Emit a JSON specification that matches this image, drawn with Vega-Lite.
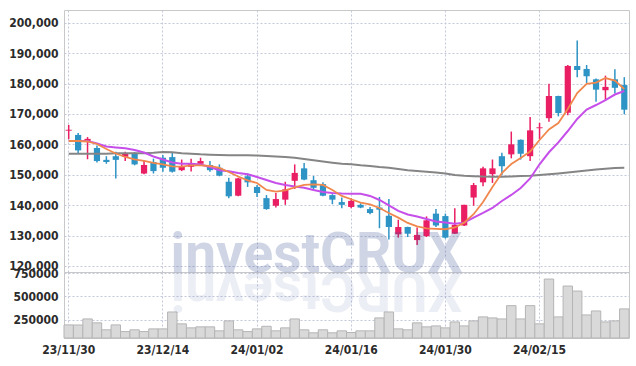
{
  "$schema": "https://vega.github.io/schema/vega-lite/v6.json",
  "padding": {"left": 5, "top": 9, "right": 8, "bottom": 5},
  "background": "white",
  "datasets": {
    "k": [
      {"d":"23/11/30","o":164500,"h":166400,"l":161700,"c":164800,"v":193000,"ma5":161100,"ma10":161100,"ma60":156930},
      {"d":"23/12/01","o":163100,"h":163700,"l":156900,"c":158000,"v":192000,"ma5":161100,"ma10":161100,"ma60":156930},
      {"d":"23/12/04","o":160900,"h":162400,"l":155100,"c":161800,"v":257000,"ma5":160940,"ma10":161100,"ma60":156930},
      {"d":"23/12/05","o":158800,"h":159600,"l":154000,"c":154500,"v":215000,"ma5":160120,"ma10":160280,"ma60":156930},
      {"d":"23/12/06","o":154900,"h":156100,"l":153600,"c":154200,"v":140000,"ma5":158470,"ma10":159300,"ma60":156930},
      {"d":"23/12/07","o":156100,"h":157600,"l":148800,"c":154900,"v":193000,"ma5":156990,"ma10":158970,"ma60":157060},
      {"d":"23/12/08","o":155900,"h":157600,"l":154500,"c":156900,"v":121000,"ma5":155840,"ma10":158700,"ma60":157060},
      {"d":"23/12/11","o":157200,"h":157500,"l":153100,"c":153400,"v":140000,"ma5":155090,"ma10":158140,"ma60":157060},
      {"d":"23/12/12","o":150400,"h":154800,"l":150200,"c":153200,"v":121000,"ma5":154530,"ma10":157320,"ma60":157060},
      {"d":"23/12/13","o":154200,"h":155300,"l":150400,"c":151200,"v":150000,"ma5":153870,"ma10":156010,"ma60":157200},
      {"d":"23/12/14","o":155600,"h":156500,"l":151000,"c":152300,"v":150000,"ma5":153440,"ma10":155020,"ma60":157500},
      {"d":"23/12/15","o":155800,"h":157300,"l":150700,"c":151000,"v":332000,"ma5":152720,"ma10":154030,"ma60":157400},
      {"d":"23/12/18","o":151500,"h":155000,"l":151200,"c":152800,"v":204000,"ma5":152650,"ma10":153640,"ma60":157100},
      {"d":"23/12/19","o":152600,"h":155300,"l":151100,"c":153600,"v":161000,"ma5":153050,"ma10":153640,"ma60":156930},
      {"d":"23/12/20","o":153600,"h":155600,"l":153000,"c":154500,"v":172000,"ma5":153110,"ma10":153380,"ma60":156730},
      {"d":"23/12/21","o":153200,"h":154500,"l":151000,"c":151500,"v":172000,"ma5":152880,"ma10":152550,"ma60":156600},
      {"d":"23/12/22","o":152300,"h":153400,"l":149500,"c":149700,"v":129000,"ma5":152230,"ma10":151470,"ma60":156500},
      {"d":"23/12/26","o":147700,"h":149000,"l":142300,"c":142900,"v":236000,"ma5":150910,"ma10":151140,"ma60":156430},
      {"d":"23/12/27","o":143100,"h":149000,"l":142900,"c":148800,"v":140000,"ma5":149430,"ma10":150580,"ma60":156400},
      {"d":"23/12/28","o":149500,"h":150400,"l":146000,"c":147500,"v":121000,"ma5":148120,"ma10":150150,"ma60":156400},
      {"d":"24/01/02","o":146000,"h":146600,"l":142700,"c":144000,"v":150000,"ma5":147290,"ma10":149270,"ma60":156340},
      {"d":"24/01/03","o":142300,"h":143300,"l":138500,"c":138700,"v":178000,"ma5":144990,"ma10":148280,"ma60":156170},
      {"d":"24/01/04","o":139800,"h":144000,"l":139200,"c":142000,"v":129000,"ma5":144430,"ma10":147290,"ma60":156010},
      {"d":"24/01/05","o":141800,"h":147700,"l":140100,"c":145200,"v":161000,"ma5":144830,"ma10":146640,"ma60":155840},
      {"d":"24/01/08","o":148000,"h":153400,"l":145300,"c":150600,"v":257000,"ma5":145810,"ma10":146140,"ma60":155580},
      {"d":"24/01/09","o":152100,"h":153900,"l":148200,"c":148400,"v":140000,"ma5":146640,"ma10":145750,"ma60":155190},
      {"d":"24/01/10","o":148200,"h":149600,"l":145100,"c":145700,"v":108000,"ma5":146800,"ma10":144990,"ma60":154760},
      {"d":"24/01/11","o":146900,"h":147500,"l":142900,"c":143100,"v":140000,"ma5":146640,"ma10":144330,"ma60":154360},
      {"d":"24/01/12","o":143300,"h":143600,"l":140300,"c":141800,"v":108000,"ma5":144990,"ma10":144010,"ma60":153970},
      {"d":"24/01/15","o":141000,"h":142500,"l":139000,"c":140100,"v":129000,"ma5":143020,"ma10":143840,"ma60":153640},
      {"d":"24/01/16","o":139400,"h":142300,"l":139000,"c":141400,"v":111000,"ma5":141930,"ma10":143780,"ma60":153440},
      {"d":"24/01/17","o":140100,"h":140600,"l":139000,"c":139200,"v":129000,"ma5":140820,"ma10":143740,"ma60":153110},
      {"d":"24/01/18","o":138700,"h":139400,"l":137000,"c":137400,"v":129000,"ma5":140220,"ma10":143020,"ma60":152880},
      {"d":"24/01/19","o":139200,"h":142700,"l":132400,"c":138500,"v":268000,"ma5":139070,"ma10":141700,"ma60":152550},
      {"d":"24/01/22","o":136500,"h":142000,"l":128700,"c":132800,"v":332000,"ma5":137430,"ma10":139900,"ma60":152290},
      {"d":"24/01/23","o":130400,"h":135200,"l":129300,"c":132800,"v":150000,"ma5":135880,"ma10":138090,"ma60":151900},
      {"d":"24/01/24","o":132800,"h":132900,"l":129500,"c":130600,"v":140000,"ma5":134140,"ma10":136940,"ma60":151470},
      {"d":"24/01/25","o":128500,"h":132600,"l":126900,"c":130200,"v":215000,"ma5":132990,"ma10":136280,"ma60":151240},
      {"d":"24/01/26","o":129800,"h":136300,"l":129500,"c":135000,"v":172000,"ma5":132330,"ma10":135460,"ma60":151010},
      {"d":"24/01/29","o":137200,"h":138700,"l":132800,"c":133300,"v":182000,"ma5":132170,"ma10":134630,"ma60":150750},
      {"d":"24/01/30","o":136400,"h":137200,"l":129000,"c":129300,"v":161000,"ma5":132070,"ma10":134310,"ma60":150420},
      {"d":"24/01/31","o":130600,"h":139000,"l":130500,"c":133500,"v":225000,"ma5":132660,"ma10":133910,"ma60":149920},
      {"d":"24/02/01","o":133300,"h":140100,"l":133100,"c":140100,"v":182000,"ma5":134240,"ma10":134240,"ma60":149660},
      {"d":"24/02/02","o":142500,"h":147300,"l":139800,"c":146600,"v":236000,"ma5":137000,"ma10":135880,"ma60":149500},
      {"d":"24/02/05","o":147500,"h":152600,"l":146200,"c":152100,"v":279000,"ma5":141050,"ma10":137430,"ma60":149400},
      {"d":"24/02/06","o":150200,"h":155000,"l":147300,"c":152100,"v":268000,"ma5":145980,"ma10":139070,"ma60":149370},
      {"d":"24/02/07","o":156100,"h":157200,"l":149900,"c":152800,"v":257000,"ma5":150580,"ma10":141370,"ma60":149370},
      {"d":"24/02/08","o":156700,"h":164200,"l":155400,"c":160000,"v":400000,"ma5":153540,"ma10":143350,"ma60":149430},
      {"d":"24/02/13","o":161500,"h":161600,"l":155000,"c":156900,"v":257000,"ma5":155510,"ma10":145650,"ma60":149600},
      {"d":"24/02/14","o":156100,"h":169000,"l":154500,"c":164600,"v":400000,"ma5":157650,"ma10":148770,"ma60":149690},
      {"d":"24/02/15","o":165300,"h":167100,"l":161700,"c":165600,"v":204000,"ma5":161430,"ma10":153440,"ma60":149920},
      {"d":"24/02/16","o":168600,"h":179900,"l":167400,"c":175900,"v":686000,"ma5":164880,"ma10":157390,"ma60":150150},
      {"d":"24/02/19","o":175900,"h":176000,"l":169200,"c":170300,"v":279000,"ma5":167020,"ma10":160640,"ma60":150420},
      {"d":"24/02/20","o":170400,"h":186100,"l":169600,"c":185800,"v":611000,"ma5":171620,"ma10":164390,"ma60":150750},
      {"d":"24/02/21","o":185800,"h":194200,"l":182100,"c":184500,"v":557000,"ma5":176890,"ma10":168340,"ma60":151080},
      {"d":"24/02/22","o":184800,"h":186100,"l":180200,"c":182400,"v":300000,"ma5":179940,"ma10":171460,"ma60":151400},
      {"d":"24/02/23","o":181400,"h":181700,"l":174000,"c":178000,"v":343000,"ma5":180340,"ma10":172940,"ma60":151730},
      {"d":"24/02/26","o":177800,"h":182600,"l":174500,"c":178900,"v":225000,"ma5":181820,"ma10":174580,"ma60":151960},
      {"d":"24/02/27","o":181400,"h":184700,"l":176700,"c":178600,"v":236000,"ma5":181000,"ma10":176390,"ma60":152230},
      {"d":"24/02/28","o":179500,"h":182100,"l":169900,"c":171400,"v":365000,"ma5":178200,"ma10":177540,"ma60":152320}
    ],
    "wm": [{"t": "investCRUX", "r": "XURCtsevni"}]
  },
  "spacing": 0,
  "bounds": "flush",
  "vconcat": [
    {
      "width": 565,
      "height": 262,
      "data": {"name": "k"},
      "encoding": {
        "x": {
          "field": "d", "type": "ordinal",
          "scale": {"type": "band", "paddingInner": 0, "paddingOuter": 0},
          "axis": {
            "values": ["23/11/30","23/12/14","24/01/02","24/01/16","24/01/30","24/02/15"],
            "labels": false, "ticks": false, "domain": false, "title": null,
            "grid": true, "bandPosition": 0.5
          }
        }
      },
      "layer": [
        {
          "mark": {"type": "rule", "strokeWidth": 1.5},
          "encoding": {
            "y": {
              "field": "l", "type": "quantitative", "title": null,
              "scale": {"domain": [118000, 204200], "zero": false, "nice": false},
              "axis": {"values": [120000,130000,140000,150000,160000,170000,180000,190000,200000], "tickCount": 30, "format": ",d", "minExtent": 58, "maxExtent": 58, "labelOverlap": false}
            },
            "y2": {"field": "h"},
            "color": {"condition": {"test": "datum.c >= datum.o", "value": "#e91e63"}, "value": "#2e93c5"}
          }
        },
        {
          "mark": {"type": "bar", "width": {"band": 0.66}},
          "encoding": {
            "y": {"field": "o", "type": "quantitative", "title": null},
            "y2": {"field": "c"},
            "color": {"condition": {"test": "datum.c >= datum.o", "value": "#e91e63"}, "value": "#2e93c5"}
          }
        },
        {
          "mark": {"type": "line", "color": "#858585", "strokeWidth": 2},
          "encoding": {"y": {"field": "ma60", "type": "quantitative", "title": null}}
        },
        {
          "mark": {"type": "line", "color": "#c64fea", "strokeWidth": 2},
          "encoding": {"y": {"field": "ma10", "type": "quantitative", "title": null}}
        },
        {
          "mark": {"type": "line", "color": "#f0884d", "strokeWidth": 1.8},
          "encoding": {"y": {"field": "ma5", "type": "quantitative", "title": null}}
        },
        {
          "data": {"name": "wm"},
          "mark": {"type": "text", "font": "Roboto", "fontWeight": "bold", "fontSize": 55, "align": "center", "baseline": "alphabetic", "fill": "#3a5496", "opacity": 0.24, "dx": 3},
          "encoding": {
            "x": {"datum": "24/01/10"},
            "y": {"datum": 118000, "type": "quantitative"},
            "text": {"field": "t"}
          }
        }
      ]
    },
    {
      "width": 565,
      "height": 66,
      "layer": [
        {
          "data": {"name": "k"},
          "mark": {"type": "bar", "fill": "#d9d9d9", "stroke": "#b5b5b5", "strokeWidth": 1},
          "encoding": {
            "x": {
              "field": "d", "type": "ordinal",
              "scale": {"type": "band", "paddingInner": 0, "paddingOuter": 0},
              "axis": {
                "values": ["23/11/30","23/12/14","24/01/02","24/01/16","24/01/30","24/02/15"],
                "ticks": false, "domain": false, "title": null, "labelAngle": 0,
                "grid": true, "bandPosition": 0.5, "labelPadding": 6
              }
            },
            "y": {
              "field": "v", "type": "quantitative", "title": null,
              "scale": {"domain": [52000, 762000], "zero": false, "nice": false},
              "axis": {"values": [250000, 500000, 750000], "tickCount": 30, "format": "d", "minExtent": 58, "maxExtent": 58, "labelOverlap": false}
            },
            "y2": {"datum": 52000}
          }
        },
        {
          "data": {"name": "wm"},
          "mark": {"type": "text", "font": "Roboto", "fontWeight": "bold", "fontSize": 55, "align": "center", "baseline": "alphabetic", "fill": "#3a5496", "opacity": 0.09, "angle": 180, "dx": -3},
          "encoding": {
            "x": {"datum": "24/01/10", "type": "ordinal"},
            "y": {"datum": 762000, "type": "quantitative"},
            "text": {"field": "r"}
          }
        }
      ]
    }
  ],
  "config": {
    "view": {"stroke": "#c8c8c8"},
    "axis": {
      "labelFont": "DejaVu Sans Condensed, DejaVu Sans, sans-serif",
      "labelFontWeight": "bold",
      "labelFontSize": 12,
      "labelColor": "#2b2b2b",
      "gridColor": "#c3c7da",
      "gridDash": [2, 2],
      "gridWidth": 1,
      "labelOverlap": false,
      "domain": false,
      "ticks": false
    },
    "axisY": {"labelPadding": 6}
  }
}
